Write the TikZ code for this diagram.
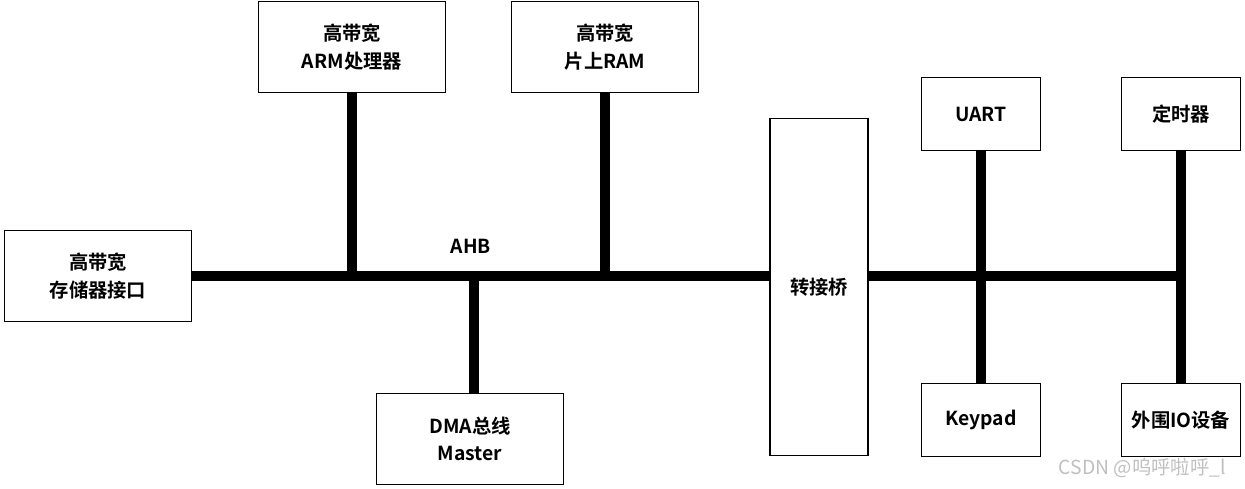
\documentclass[tikz,border=0pt]{standalone}
\usepackage{fontspec}
\setmainfont{Noto Sans CJK SC Bold}
\begin{document}
\begin{tikzpicture}[x=0.02cm, y=-0.02cm,
    blk/.style={draw, line width=0.8pt, align=center, inner sep=0pt, font=\fontsize{11}{15.5}\selectfont},
    bigblk/.style={blk, minimum width=3.74cm, minimum height=1.82cm},
    smallblk/.style={blk, minimum width=2.38cm, minimum height=1.46cm},
    bus/.style={line width=5.7pt}]
    \useasboundingbox (0,0) rectangle (1245,488);

    % Blocks on the AHB side
    \node[bigblk] (mem) at (98,276) {高带宽\\存储器接口};
    \node[bigblk] (arm) at (352,47) {高带宽\\ARM处理器};
    \node[bigblk] (ram) at (605,47) {高带宽\\片上RAM};
    \node[bigblk] (dma) at (470,439) {DMA总线\\Master};

    % Bridge
    \node[blk, minimum width=1.96cm, minimum height=6.74cm] (bridge) at (819,287) {转接桥};

    % Blocks on the peripheral side
    \node[smallblk] (uart) at (981,114) {UART};
    \node[smallblk] (timer) at (1181,114) {定时器};
    \node[smallblk] (keypad) at (981,420) {Keypad};
    \node[smallblk] (io) at (1181,420) {外围IO设备};

    % AHB bus
    \coordinate (dmatap) at (474,276);
    \draw[bus] (mem.east) -- (mem.east -| bridge.west);
    \draw[bus] (arm.south) -- (arm.south |- mem.east);
    \draw[bus] (ram.south) -- (ram.south |- mem.east);
    \draw[bus] (dmatap) -- (dmatap |- dma.north);
    \node[font=\fontsize{11}{12}\selectfont] (ahb) at (471,246) {AHB};

    % Peripheral bus
    \draw[bus] (bridge.east |- mem.east) -- (timer.south |- mem.east);
    \draw[bus] (uart.south) -- (keypad.north);
    \draw[bus] (timer.south) -- (io.north);

    % Watermark
    \node[anchor=east, text=black!25, font={\fontspec{Noto Sans CJK SC}\fontsize{11}{12}\selectfont}] (mark) at (1232,468) {CSDN @呜呼啦呼\_l};
\end{tikzpicture}
\end{document}
